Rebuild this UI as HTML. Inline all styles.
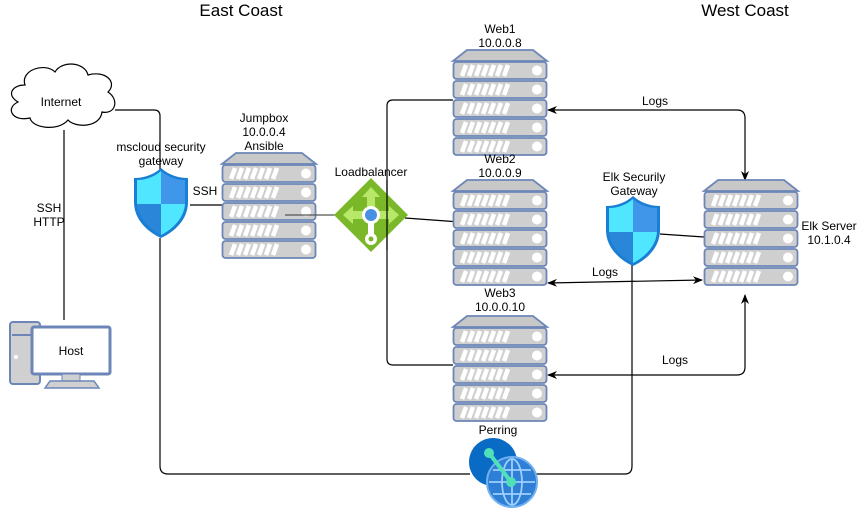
<!DOCTYPE html>
<html><head><meta charset="utf-8"><style>
body{margin:0;background:#fff}
svg{display:block;font-family:"Liberation Sans",sans-serif}
</style></head><body>
<svg width="866" height="510" viewBox="0 0 866 510" xmlns="http://www.w3.org/2000/svg">
<defs>
<g id="row">
<rect x="0.5" y="0" width="93" height="17" rx="3" fill="#cfcfcf" stroke="#6c86b8" stroke-width="1.8"/>
<path d="M9,14 L13,3 M16,14 L20,3 M23,14 L27,3 M30,14 L34,3 M37,14 L41,3 M44,14 L48,3 M51,14 L55,3" stroke="#fff" stroke-width="4.5"/>
<circle cx="84" cy="8.5" r="5" fill="#fff"/>
</g>
<g id="srv">
<path d="M14,0 L80,0 L94,11 L0,11 Z" fill="#c8c8c8" stroke="#6c86b8" stroke-width="1.8"/>
<use href="#row" y="12"/><use href="#row" y="31"/><use href="#row" y="50"/><use href="#row" y="69"/><use href="#row" y="88"/>
</g>
<g id="shield">
<path d="M27,0 C18,8 8,10 0,10 L0,34 C0,52 14,64 27,70 C40,64 54,52 54,34 L54,10 C46,10 36,8 27,0 Z" fill="#1a7fd4"/>
<path d="M27,3 C19,10 10,12 3,12 L3,36 L27,36 Z" fill="#50e6ff"/>
<path d="M27,3 C35,10 44,12 51,12 L51,36 L27,36 Z" fill="#4096e8"/>
<path d="M3,36 C4,50 15,61 27,67 L27,36 Z" fill="#2a86d9"/>
<path d="M51,36 C50,50 39,61 27,67 L27,36 Z" fill="#50e6ff"/>
</g>
<marker id="ar" markerWidth="10" markerHeight="10" refX="9" refY="5" orient="auto-start-reverse" markerUnits="userSpaceOnUse"><path d="M0,1 L10,5 L0,9 L3,5 Z" fill="#000"/></marker>
</defs>

<g fill="none" stroke="#000" stroke-width="1.2">
<path d="M64,130 L64,320"/>
<path d="M115,110 L154,110 Q160,110 160,116 L160,170"/>
<path d="M160,238 L160,466 Q160,474 168,474 L470,474"/>
<path d="M530,474 L625,474 Q632,474 632,466 L632,255"/>
<path d="M660,234 L704,237"/>
<path d="M190,205 L222,205"/>
<path d="M405,218 L460,222"/>
<path d="M453,100 L393,100 Q387,100 387,106 L387,359 Q387,365 393,365 L453,365"/>
<path d="M548,110 L737,110 Q745,110 745,118 L745,180" marker-end="url(#ar)" marker-start="url(#ar)"/>
<path d="M702,280 L548,283" marker-end="url(#ar)" marker-start="url(#ar)"/>
<path d="M548,375 L737,375 Q745,375 745,367 L745,295" marker-end="url(#ar)" marker-start="url(#ar)"/>
</g>

<use href="#srv" x="453" y="50"/>
<use href="#srv" x="453" y="180"/>
<use href="#srv" x="453" y="316"/>
<use href="#srv" x="222" y="153"/>
<use href="#srv" x="704" y="180"/>
<path d="M285,215 L340,215" stroke="#555" stroke-width="1.2"/>

<use href="#shield" x="134" y="168"/>
<use href="#shield" x="606" y="196"/>

<!-- load balancer -->
<g transform="translate(371,215)">
<path d="M0,-37 L37,0 L0,37 L-37,0 Z" fill="#7ab829"/>
<path d="M0,-28 L-9,-18 L-4,-18 L-4,-8 L4,-8 L4,-18 L9,-18 Z M-28,0 L-18,-9 L-18,-4 L-8,-4 L-8,4 L-18,4 L-18,9 Z M28,0 L18,-9 L18,-4 L8,-4 L8,4 L18,4 L18,9 Z" fill="#b8e86a"/>
<rect x="-3" y="8" width="6" height="14" fill="#fff"/>
<circle cx="0" cy="24" r="6" fill="#fff"/><circle cx="0" cy="24" r="2.5" fill="#7ab829"/>
<circle cx="0" cy="0" r="9" fill="#fff"/><circle cx="0" cy="0" r="6" fill="#4a90e2"/>
</g>
<path d="M387,180 L387,250" stroke="#000" stroke-width="1.2"/>

<!-- peering -->
<circle cx="493" cy="462" r="24" fill="#0a6bc4"/>
<circle cx="512" cy="482" r="25" fill="#2f7fd6" stroke="#6fb0f0" stroke-width="2"/>
<g fill="none" stroke="#9cd0ff" stroke-width="1.8">
<ellipse cx="512" cy="482" rx="10" ry="23"/><path d="M489,482 L535,482 M493,470 L531,470 M493,494 L531,494 M512,459 L512,505"/>
</g>
<path d="M489,453 L511,482" stroke="#4fe0b8" stroke-width="4"/>
<circle cx="489" cy="453" r="5" fill="#4fe0b8"/><circle cx="511" cy="482" r="5" fill="#4fe0b8"/>

<!-- cloud -->
<path d="M25,85 C20,70 45,62 55,72 C62,60 85,62 88,75 C105,70 118,82 108,92 C120,100 115,115 102,112 C100,128 75,128 68,120 C58,132 32,128 30,118 C12,122 5,108 18,102 C6,95 12,85 25,85 Z" fill="#fff" stroke="#000" stroke-width="1.2"/>
<text x="61" y="106" font-size="12" text-anchor="middle">Internet</text>

<!-- host -->
<rect x="10" y="322" width="30" height="62" rx="3" fill="#d0d0d0" stroke="#6c86b8" stroke-width="2"/>
<line x1="12" y1="335" x2="38" y2="335" stroke="#6c86b8" stroke-width="2"/>
<circle cx="16" cy="357" r="2" fill="#fff"/>
<rect x="32" y="327" width="78" height="47" rx="2" fill="#fff" stroke="#6c86b8" stroke-width="3"/>
<rect x="62" y="374" width="18" height="7" fill="#d0d0d0" stroke="#6c86b8"/>
<path d="M45,388 L50,381 L94,381 L99,388 Z" fill="#d0d0d0" stroke="#6c86b8" stroke-width="1.5"/>
<text x="71" y="355" font-size="12" text-anchor="middle">Host</text>

<g font-size="12" text-anchor="middle" fill="#000">
<text x="241" y="16" font-size="17">East Coast</text>
<text x="745" y="16" font-size="17">West Coast</text>
<text x="500" y="33">Web1</text><text x="500" y="47">10.0.0.8</text>
<text x="500" y="163">Web2</text><text x="500" y="177">10.0.0.9</text>
<text x="500" y="297">Web3</text><text x="500" y="311">10.0.0.10</text>
<text x="264" y="122">Jumpbox</text><text x="264" y="136">10.0.0.4</text><text x="264" y="150">Ansible</text>
<text x="161" y="151">mscloud security</text><text x="161" y="165">gateway</text>
<text x="205" y="195">SSH</text>
<text x="49" y="212">SSH</text><text x="49" y="226">HTTP</text>
<text x="371" y="176">Loadbalancer</text>
<text x="634" y="181">Elk Securily</text><text x="634" y="195">Gateway</text>
<text x="829" y="230">Elk Server</text><text x="829" y="244">10.1.0.4</text>
<text x="655" y="105">Logs</text>
<text x="605" y="276">Logs</text>
<text x="675" y="364">Logs</text>
<text x="498" y="434">Perring</text>
</g>
</svg>
</body></html>
